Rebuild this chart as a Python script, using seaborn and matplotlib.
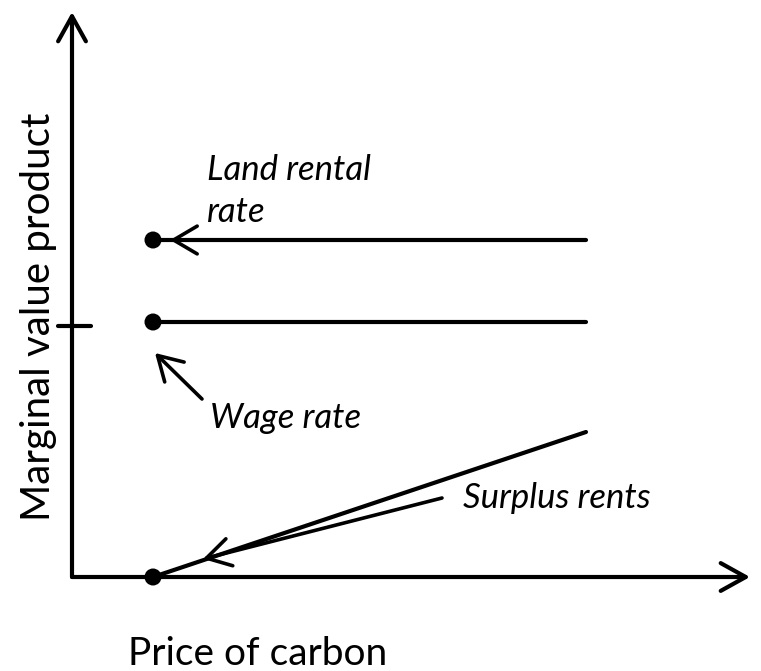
import matplotlib
matplotlib.use("Agg")
import matplotlib.pyplot as plt
import seaborn as sns
import pandas as pd

# diagram values (origin of the axes at 0, 0)
carbon_start = 81      # price of carbon where all curves begin
carbon_end = 514
land_rate = 337
wage_rate = 255
surplus_end = 145
axis_x_end = 678
axis_y_end = 565
wage_tick = 251

lines = pd.DataFrame({
    "x": [carbon_start, carbon_end, carbon_start, carbon_end, carbon_start, carbon_end],
    "y": [land_rate, land_rate, wage_rate, wage_rate, 0, surplus_end],
    "curve": ["land", "land", "wage", "wage", "surplus", "surplus"],
})
dots = pd.DataFrame({"x": [carbon_start] * 3, "y": [land_rate, wage_rate, 0]})

sns.set_style("white")
plt.rcParams['font.family'] = ['Lato', 'DejaVu Sans']
plt.rcParams['text.color'] = 'black'

fig = plt.figure(figsize=(7.61, 6.71), dpi=100)
ax = fig.add_axes([0, 0, 1, 1])
ax.set_xlim(-72, 689)
ax.set_ylim(-94, 577)
ax.axis("off")

sns.lineplot(data=lines, x="x", y="y", units="curve", estimator=None,
             color="black", lw=3, ax=ax, legend=False)
sns.scatterplot(data=dots, x="x", y="y", color="black", s=150, ax=ax,
                edgecolor="none", zorder=5)

# axes with arrow heads
arrow = dict(arrowstyle="->,head_length=0.9,head_width=0.5", lw=3, color="black",
             shrinkA=0, shrinkB=0, mutation_scale=20)
ax.annotate("", xy=(0, axis_y_end), xytext=(0, 0), arrowprops=arrow)
ax.annotate("", xy=(axis_x_end, 0), xytext=(0, 0), arrowprops=arrow)
ax.plot([-14, 19], [wage_tick, wage_tick], color="black", lw=3)

# pointers to the labels
ptr = dict(arrowstyle="->,head_length=0.85,head_width=0.5", lw=2.6, color="black",
           shrinkA=0, shrinkB=0, mutation_scale=20)
ax.annotate("", xy=(98, land_rate), xytext=(140, land_rate), arrowprops=ptr)
ax.annotate("", xy=(83, 224), xytext=(130, 178), arrowprops=ptr)
ax.annotate("", xy=(131, 18), xytext=(370, 79), arrowprops=ptr)

lab = dict(style="italic", fontsize=25, ha="left", va="baseline")
ax.text(135, 397, "Land rental", **lab)
ax.text(135, 355, "rate", **lab)
ax.text(138, 149, "Wage rate", **lab)
ax.text(391, 69, "Surplus rents", **lab)

ax.text(56, -88, "Price of carbon", fontsize=28, ha="left", va="baseline")
ax.text(-22, 260, "Marginal value product", fontsize=29, rotation=90,
        rotation_mode="anchor", ha="center", va="baseline")

fig.savefig("out.png", dpi=100)
